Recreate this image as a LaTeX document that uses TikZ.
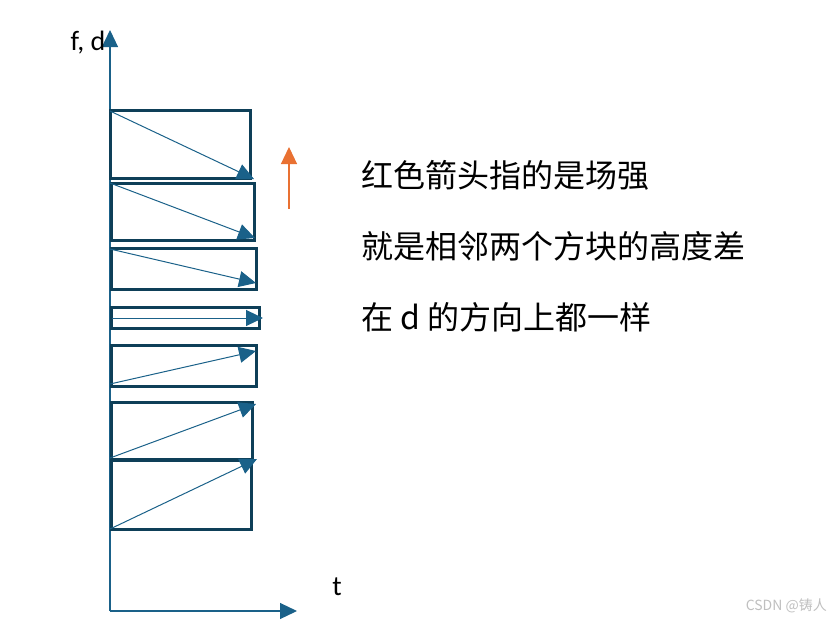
\documentclass[tikz,border=0pt]{standalone}
\usepackage{fontspec}
\setmainfont{Carlito}
\newfontfamily\cjk{Noto Sans CJK SC}
\usetikzlibrary{arrows.meta}
\definecolor{boxc}{HTML}{0E3F58}
\definecolor{arrc}{HTML}{1A6189}
\definecolor{orng}{HTML}{E97132}
\tikzset{
  blk/.style={draw=boxc, line width=3pt, inner sep=0pt, outer sep=0pt, anchor=north west},
  flow/.style={draw=arrc, line width=1pt, -{Triangle[length=17pt,width=16pt]}},
  axis/.style={draw=arrc, line width=1.2pt, -{Triangle[length=17pt,width=16pt]}},
  lbl/.style={font=\fontsize{28}{32}\selectfont, inner sep=0pt},
  cn/.style={font=\cjk\fontsize{32}{38}\selectfont, inner sep=0pt, anchor=west},
}
\begin{document}
\begin{tikzpicture}[x=1pt,y=-1pt]
\useasboundingbox (0,0) rectangle (838,622);
% axes
\coordinate (o) at (110,611);
\coordinate (ytop) at (110,30);
\coordinate (xend) at (297,611);
\draw[axis] (o) -- (ytop);
\draw[axis] (o) -- (xend);
\node[lbl] (fd) at (88,43) {f, d};
\node[lbl] (t) at (337,587) {t};
% boxes
\node[blk, minimum width=140pt, minimum height=68pt] (b1) at (110,110) {};
\node[blk, minimum width=143pt, minimum height=57pt] (b2) at (111,183) {};
\node[blk, minimum width=145pt, minimum height=41pt] (b3) at (111,248) {};
\node[blk, minimum width=148pt, minimum height=21pt] (b4) at (111,307) {};
\node[blk, minimum width=145pt, minimum height=41pt] (b5) at (111,345) {};
\node[blk, minimum width=141pt, minimum height=57pt] (b6) at (111,402) {};
\node[blk, minimum width=140pt, minimum height=69pt] (b7) at (111,460) {};
% arrows inside boxes
\coordinate (s1) at (110,111); \coordinate (e1) at (254,179);
\coordinate (s2) at (110,183); \coordinate (e2) at (255,238);
\coordinate (s3) at (110,249); \coordinate (e3) at (256,283);
\coordinate (s4) at (112,318); \coordinate (e4) at (263,318);
\coordinate (s5) at (110,384); \coordinate (e5) at (256,351);
\coordinate (s6) at (110,458); \coordinate (e6) at (256,404);
\coordinate (s7) at (110,529); \coordinate (e7) at (257,459);
\foreach \i in {1,...,7}{\draw[flow] (s\i) -- (e\i);}
% orange arrow
\coordinate (ob) at (289,209);
\coordinate (ot) at (289,147);
\draw[draw=orng, line width=1.2pt, -{Triangle[length=17pt,width=16pt,color=orng]}] (ob) -- (ot);
% texts
\node[cn] (l1) at (361,175) {红色箭头指的是场强};
\node[cn] (l2) at (361,246) {就是相邻两个方块的高度差};
\node[cn] (l3) at (361,317) {在 d 的方向上都一样};
\node[font=\cjk\fontsize{14}{16}\selectfont, text=black!25, anchor=east, inner sep=0pt] (wm) at (827,606) {CSDN @铸人};
\end{tikzpicture}
\end{document}
